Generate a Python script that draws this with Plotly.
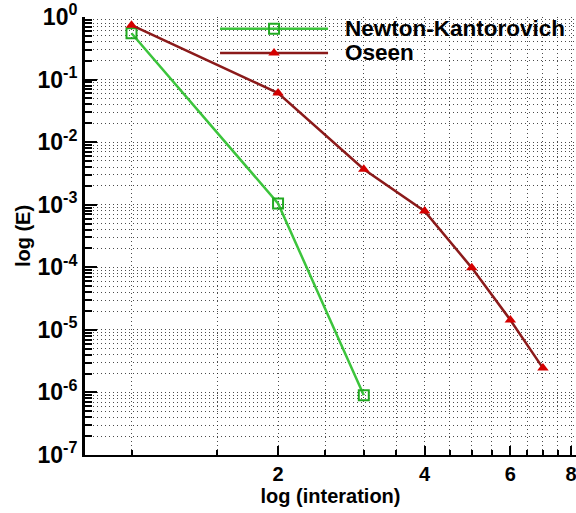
import plotly.graph_objects as go

# Convergence history (error vs. iteration) for the two linearisation schemes
series_names = ["Newton-Kantorovich", "Oseen"]
iter_nk = [1, 2, 3]
error_nk = [0.55, 1.05e-3, 9.0e-7]
iter_os = [1, 2, 3, 4, 5, 6, 7]
error_os = [0.74, 0.061, 3.7e-3, 7.9e-4, 9.8e-5, 1.44e-5, 2.45e-6]

# Axis tick values / labels
y_major = [1e0, 1e-1, 1e-2, 1e-3, 1e-4, 1e-5, 1e-6, 1e-7]
y_major_text = ["10<sup>0</sup>", "10<sup>-1</sup>", "10<sup>-2</sup>", "10<sup>-3</sup>",
                "10<sup>-4</sup>", "10<sup>-5</sup>", "10<sup>-6</sup>", "10<sup>-7</sup>"]
y_minor = [m * 10.0 ** e for e in range(-7, 0) for m in range(2, 10)]
x_major = [2, 4, 6, 8]
x_major_text = ["2", "4", "6", "8"]
x_minor = [1, 1.5, 2.5, 3, 3.5, 4.5, 5, 5.5, 6.5, 7, 7.5]

FONT = "Arial, 'Liberation Sans', sans-serif"
GREEN = "#3cc43c"
GREEN_DARK = "#22aa22"
DARKRED = "#8b1a1a"
RED = "#d40000"
GRID = "rgba(30,30,30,0.8)"
GRID_DASH = "1px,3px"

fig = go.Figure()

fig.add_trace(go.Scatter(
    x=iter_nk, y=error_nk, name=series_names[0], mode="lines+markers",
    line=dict(color=GREEN, width=2.5),
    marker=dict(symbol="square-open", size=10, color=GREEN_DARK, line=dict(width=2)),
    showlegend=False,
))
fig.add_trace(go.Scatter(
    x=iter_os, y=error_os, name=series_names[1], mode="lines+markers",
    line=dict(color=DARKRED, width=2.5),
    marker=dict(symbol="triangle-up", size=10, color=RED),
    showlegend=False,
))

# Legend samples drawn on an overlay axis spanning the plot area (0..1)
legend_x = [0.275, 0.385, 0.495]
legend_rows = [0.973, 0.918]
legend_styles = [
    (dict(color=GREEN, width=2.5), dict(symbol="square-open", size=10, color=GREEN_DARK, line=dict(width=2))),
    (dict(color=DARKRED, width=2.5), dict(symbol="triangle-up", size=10, color=RED)),
]
for name, yrow, (ln, mk) in zip(series_names, legend_rows, legend_styles):
    fig.add_trace(go.Scatter(
        x=legend_x, y=[yrow] * 3, mode="lines", line=ln,
        xaxis="x2", yaxis="y2", showlegend=False, hoverinfo="skip",
    ))
    fig.add_trace(go.Scatter(
        x=[legend_x[1]], y=[yrow], mode="markers", marker=mk,
        xaxis="x2", yaxis="y2", showlegend=False, hoverinfo="skip",
    ))
    fig.add_annotation(
        x=0.525, y=yrow, xref="paper", yref="paper", text="<b>%s</b>" % name,
        showarrow=False, xanchor="left", yanchor="middle",
        font=dict(family=FONT, size=22.5, color="black"),
    )

grid_style = dict(showgrid=True, gridcolor=GRID, griddash=GRID_DASH, gridwidth=1)

fig.update_layout(
    width=576, height=513,
    margin=dict(l=85, r=0, t=17, b=58),
    paper_bgcolor="white", plot_bgcolor="white",
    font=dict(family=FONT, color="black"),
    xaxis=dict(
        type="log", range=[-0.0955, 0.913],
        tickmode="array", tickvals=x_major, ticktext=["<b>%s</b>" % t for t in x_major_text],
        tickfont=dict(family=FONT, size=20, color="black"),
        ticklabeloverflow="allow",
        ticks="inside", ticklen=9, tickwidth=1.5, tickcolor="black",
        showline=True, linecolor="black", linewidth=2, mirror=False,
        zeroline=False,
        minor=dict(tickmode="array", tickvals=x_minor, ticks="inside", ticklen=5,
                   tickcolor="black", **grid_style),
        title=dict(text="<b>log (interation)</b>", font=dict(family=FONT, size=20, color="black"),
                   standoff=2),
        **grid_style,
    ),
    yaxis=dict(
        type="log", range=[-7, 0],
        tickmode="array", tickvals=y_major, ticktext=["<b>%s</b>" % t for t in y_major_text],
        tickfont=dict(family=FONT, size=23, color="black"),
        ticklabeloverflow="allow",
        ticks="inside", ticklen=12, tickwidth=1.5, tickcolor="black",
        showline=True, linecolor="black", linewidth=3, mirror=False,
        zeroline=False,
        minor=dict(tickmode="array", tickvals=y_minor, ticks="inside", ticklen=7,
                   tickcolor="black", **grid_style),
        title=dict(text="<b>log (E)</b>", font=dict(family=FONT, size=20, color="black"),
                   standoff=2),
        **grid_style,
    ),
    xaxis2=dict(overlaying="x", range=[0, 1], visible=False, fixedrange=True),
    yaxis2=dict(overlaying="y", range=[0, 1], visible=False, fixedrange=True),
    showlegend=False,
)

fig.write_html("out.html")
